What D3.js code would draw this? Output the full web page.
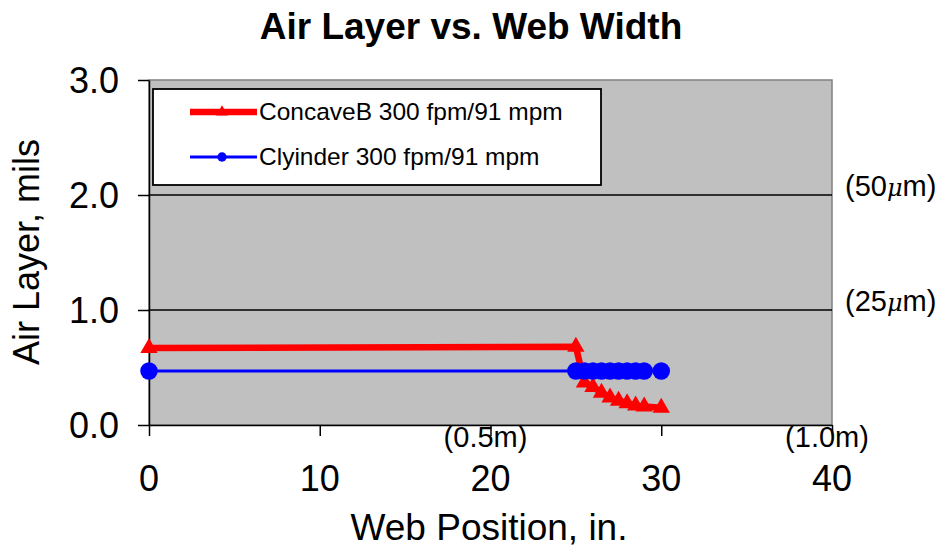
<!DOCTYPE html>
<html><head><meta charset="utf-8">
<script src="https://cdn.jsdelivr.net/npm/d3@7"></script>
<style>body{margin:0;background:#fff}text{font-family:"Liberation Sans",Arial,sans-serif}</style>
</head><body><svg id="c" width="945" height="548"></svg>
<script>
const concaveX = [0, 25, 25.5, 26, 26.5, 27, 27.5, 28, 28.5, 29, 30];
const concaveY = [0.67, 0.68, 0.37, 0.33, 0.28, 0.24, 0.21, 0.19, 0.17, 0.16, 0.15];
const cylX = [0, 25, 25.5, 26, 26.5, 27, 27.5, 28, 28.5, 29, 30];
const cylY = [0.47, 0.47, 0.47, 0.47, 0.47, 0.47, 0.47, 0.47, 0.47, 0.47, 0.47];
const xTicks = [0, 10, 20, 30, 40];
const yTicks = [0, 1, 2, 3];
const seriesNames = ["ConcaveB 300 fpm/91 mpm", "Clyinder 300 fpm/91 mpm"];
const rightNotes = [{v: 2, t: "50"}, {v: 1, t: "25"}];
const bottomNotes = [{v: 20, t: "(0.5m)"}, {v: 40, t: "(1.0m)"}];

const svg = d3.select("#c");
const x = d3.scaleLinear().domain([0, 40]).range([149, 832]);
const y = d3.scaleLinear().domain([0, 3]).range([425, 80]);

// plot area
svg.append("rect").attr("x", x(0)).attr("y", y(3)).attr("width", x(40) - x(0)).attr("height", y(0) - y(3))
  .attr("fill", "#c0c0c0").attr("stroke", "#808080").attr("stroke-width", 1.5);
svg.selectAll(".grid").data(yTicks.filter(d => d > 0 && d < 3)).join("line")
  .attr("x1", x(0)).attr("x2", x(40)).attr("y1", d => y(d)).attr("y2", d => y(d))
  .attr("stroke", "#000").attr("stroke-width", 1.3);

// axes
const xAxis = svg.append("g").attr("transform", `translate(0,${y(0)})`)
  .call(d3.axisBottom(x).tickValues(xTicks).tickSize(11).tickSizeOuter(0).tickFormat(""));
xAxis.select(".domain").attr("stroke-width", 1.5);
xAxis.selectAll("line").attr("stroke-width", 1.5);
const yAxis = svg.append("g").attr("transform", `translate(${x(0)},0)`)
  .call(d3.axisLeft(y).tickValues(yTicks).tickSize(11).tickSizeOuter(0).tickFormat(""));
yAxis.select(".domain").attr("stroke-width", 1.5);
yAxis.selectAll("line").attr("stroke-width", 1.5);

svg.selectAll(".xl").data(xTicks).join("text").attr("x", d => x(d)).attr("y", 491)
  .attr("text-anchor", "middle").attr("font-size", 36).text(d => d);
svg.selectAll(".yl").data(yTicks).join("text").attr("x", 119).attr("y", d => y(d) + 13)
  .attr("text-anchor", "end").attr("font-size", 36).text(d => d.toFixed(1));

// annotations
const rn = svg.selectAll(".rn").data(rightNotes).join("text").attr("x", 845).attr("y", d => y(d.v) + 1)
  .attr("font-size", 29);
rn.append("tspan").text(d => "(" + d.t);
rn.append("tspan").attr("font-family", "'DejaVu Serif',serif").attr("font-style", "italic").attr("font-size", 24).text("\u03bc");
rn.append("tspan").text("m)");
svg.selectAll(".bn").data(bottomNotes).join("text").attr("x", d => x(d.v) - 5).attr("y", 447)
  .attr("text-anchor", "middle").attr("font-size", 29).text(d => d.t);

// titles
svg.append("text").attr("x", 471).attr("y", 39).attr("text-anchor", "middle").attr("font-size", 37)
  .attr("font-weight", "bold").text("Air Layer vs. Web Width");
svg.append("text").attr("x", 489).attr("y", 540).attr("text-anchor", "middle").attr("font-size", 37)
  .text("Web Position, in.");
svg.append("text").attr("transform", "translate(39,252) rotate(-90)").attr("text-anchor", "middle")
  .attr("font-size", 36).text("Air Layer, mils");

// series
const line = d3.line().x(d => x(d[0])).y(d => y(d[1]));
const redPts = concaveX.map((v, i) => [v, concaveY[i]]);
const bluePts = cylX.map((v, i) => [v, cylY[i]]);
svg.append("path").datum(redPts).attr("d", line).attr("fill", "none").attr("stroke", "#ff0000").attr("stroke-width", 6.5);
svg.append("path").datum(bluePts).attr("d", line).attr("fill", "none").attr("stroke", "#0000ff").attr("stroke-width", 3);
const tri = d3.symbol().type(d3.symbolTriangle).size(130);
const circ = d3.symbol().type(d3.symbolCircle).size(240);
svg.selectAll(".rp").data(redPts).join("path").attr("d", tri)
  .attr("transform", d => `translate(${x(d[0])},${y(d[1])})`).attr("fill", "#ff0000");
svg.selectAll(".bp").data(bluePts).join("path").attr("d", circ)
  .attr("transform", d => `translate(${x(d[0])},${y(d[1])})`).attr("fill", "#0000ff");

// legend
const lg = svg.append("g");
lg.append("rect").attr("x", 153).attr("y", 89).attr("width", 448).attr("height", 96)
  .attr("fill", "#fff").attr("stroke", "#000").attr("stroke-width", 1.8);
const colors = ["#ff0000", "#0000ff"];
const widths = [6.5, 3];
const syms = [d3.symbol().type(d3.symbolTriangle).size(60), d3.symbol().type(d3.symbolCircle).size(70)];
seriesNames.forEach((n, i) => {
  const yy = 112 + i * 45;
  lg.append("line").attr("x1", 190).attr("x2", 257).attr("y1", yy).attr("y2", yy)
    .attr("stroke", colors[i]).attr("stroke-width", widths[i]);
  lg.append("path").attr("d", syms[i]).attr("transform", `translate(222,${yy})`).attr("fill", colors[i]);
  lg.append("text").attr("x", 259).attr("y", yy + 8).attr("font-size", 24.5).text(n);
});
</script></body></html>
